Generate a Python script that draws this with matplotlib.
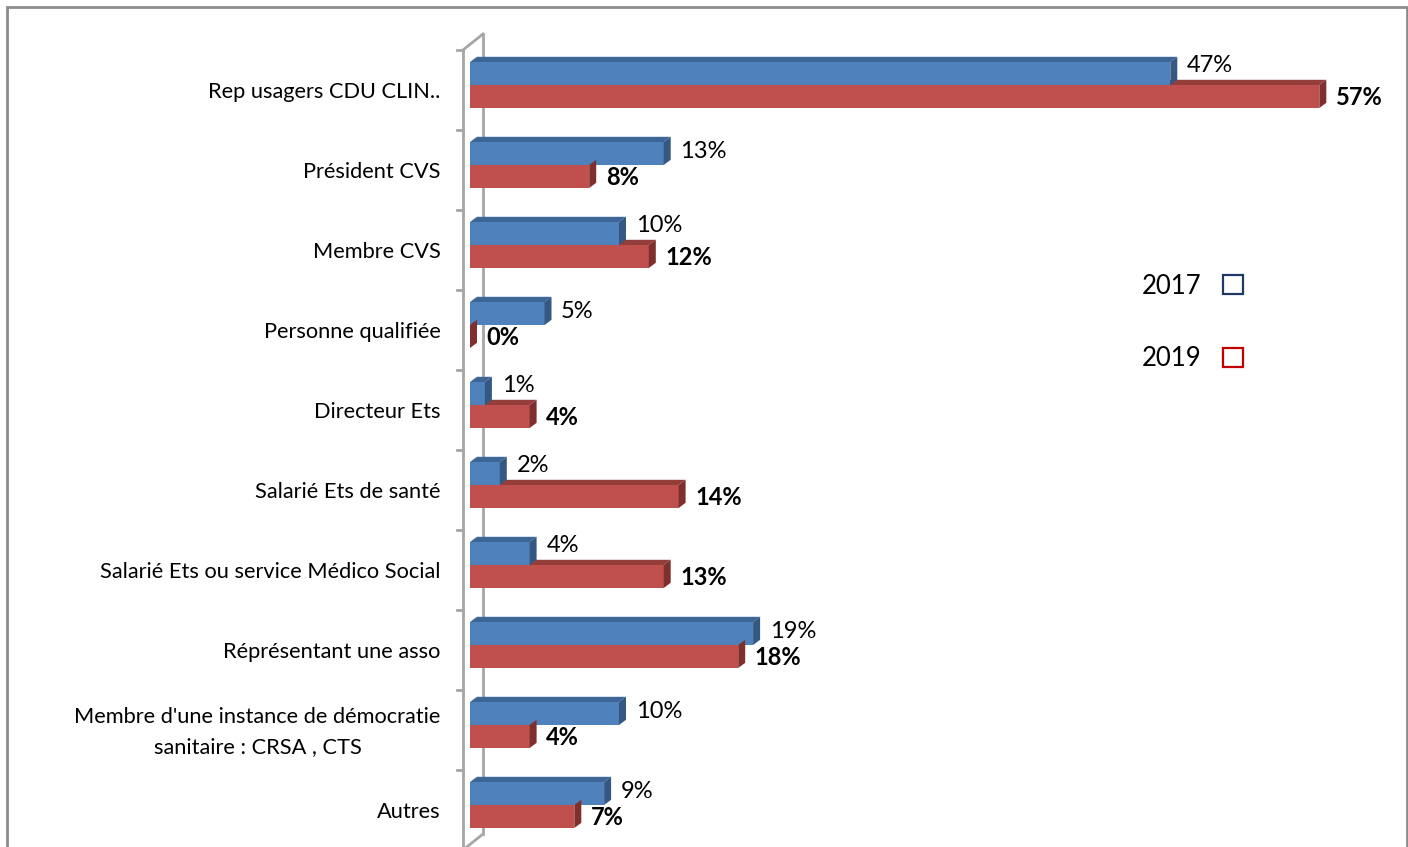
import matplotlib.pyplot as plt
from matplotlib.patches import Polygon, Patch, Rectangle

plt.rcParams["font.family"] = ["Lato", "DejaVu Sans"]

CATEGORIES = [
    "Rep usagers CDU CLIN..",
    "Président CVS",
    "Membre CVS",
    "Personne qualifiée",
    "Directeur Ets",
    "Salarié Ets de santé",
    "Salarié Ets ou service Médico Social",
    "Réprésentant une asso",
    "Membre d'une instance de démocratie\nsanitaire : CRSA , CTS",
    "Autres",
]
VALUES_2017 = [47, 13, 10, 5, 1, 2, 4, 19, 10, 9]
VALUES_2019 = [57, 8, 12, 0, 4, 14, 13, 18, 4, 7]
YEARS = ["2017", "2019"]

FRONT = {"2017": "#4f81bd", "2019": "#c0504d"}
TOP = {"2017": "#3d6595", "2019": "#943e3c"}
SIDE = {"2017": "#355883", "2019": "#7f302e"}
EDGE = {"2017": "#1f3864", "2019": "#c00000"}
WALL = "#a6a6a6"

BAR_H = 0.2875
# bar depth, in data units
DX, DY = 0.47, 0.065
# wall (floor) depth
WX, WY = 1.34, 0.2

W, H = 1408, 847
fig = plt.figure(figsize=(W / 100, H / 100), dpi=100)
ax = fig.add_axes([470 / W, 0, 938 / W, (H - 30) / H])
ax.set_xlim(0, 938 / 14.9)
ax.set_ylim((H - 85) / 80, (30 - 85) / 80)
ax.axis("off")

# outer frame
fig.patches.append(Rectangle((7 / W, -0.1), (1407 - 7) / W, (H - 7) / H + 0.1,
                             transform=fig.transFigure, fill=False,
                             edgecolor="#8c8c8c", linewidth=2))

# side wall
front_x = -0.47
y_top, y_bot = -0.4375, -0.4375 + len(CATEGORIES)
ax.plot([front_x, front_x], [y_top, y_bot], color=WALL, lw=2, clip_on=False)
ax.plot([front_x + WX, front_x + WX], [y_top - WY, y_bot - WY], color=WALL, lw=2,
        clip_on=False)
ax.plot([front_x, front_x + WX], [y_top, y_top - WY], color=WALL, lw=2, clip_on=False)
ax.plot([front_x, front_x + WX], [y_bot, y_bot - WY], color=WALL, lw=2, clip_on=False)
for k in range(len(CATEGORIES) + 1):
    ax.plot([front_x - 0.42, front_x], [y_top + k, y_top + k], color=WALL, lw=2,
            clip_on=False)


def draw_bar(y0, value, year):
    x1 = value
    y1 = y0 + BAR_H
    ax.add_patch(Rectangle((0, y0), x1, BAR_H, facecolor=FRONT[year],
                           edgecolor="none", zorder=3))
    top = [(0, y0), (x1, y0), (x1 + DX, y0 - DY), (DX, y0 - DY)]
    side = [(x1, y0), (x1 + DX, y0 - DY), (x1 + DX, y1 - DY), (x1, y1)]
    ax.add_patch(Polygon(top, closed=True, facecolor=TOP[year], edgecolor="none",
                         zorder=2))
    ax.add_patch(Polygon(side, closed=True, facecolor=SIDE[year], edgecolor="none",
                         zorder=3))


for i, (v17, v19) in enumerate(zip(VALUES_2017, VALUES_2019)):
    draw_bar(i - BAR_H, v17, "2017")
    draw_bar(i, v19, "2019")

    # lift the 2017 label when the 2019 bar below runs past it
    shift = 5.5 if v19 > v17 else 1.5
    ax.annotate(f"{v17}%", xy=(v17, i - BAR_H / 2), xytext=(12, shift),
                textcoords="offset points", ha="left", va="center",
                fontsize=17, color="black", zorder=5)
    ax.annotate(f"{v19}%", xy=(v19, i + BAR_H / 2), xytext=(12, -1),
                textcoords="offset points", ha="left", va="center",
                fontsize=17, fontweight="bold", color="black", zorder=5)

    ax.annotate(CATEGORIES[i], xy=(0, i), xytext=(-21, -5),
                textcoords="offset points", ha="right", va="center", ma="center",
                fontsize=15.7, linespacing=1.6, annotation_clip=False)

handles = [Patch(facecolor="white", edgecolor=EDGE[y], linewidth=1.6) for y in YEARS]
ax.legend(handles, YEARS, loc="upper left", bbox_to_anchor=(1129 / W, 1 - 261 / H),
          bbox_transform=fig.transFigure, frameon=False, markerfirst=False,
          fontsize=18.5, handlelength=0.75, handleheight=0.75, labelspacing=1.85,
          handletextpad=0.85, borderpad=0)

fig.savefig("out.png", dpi=100)
